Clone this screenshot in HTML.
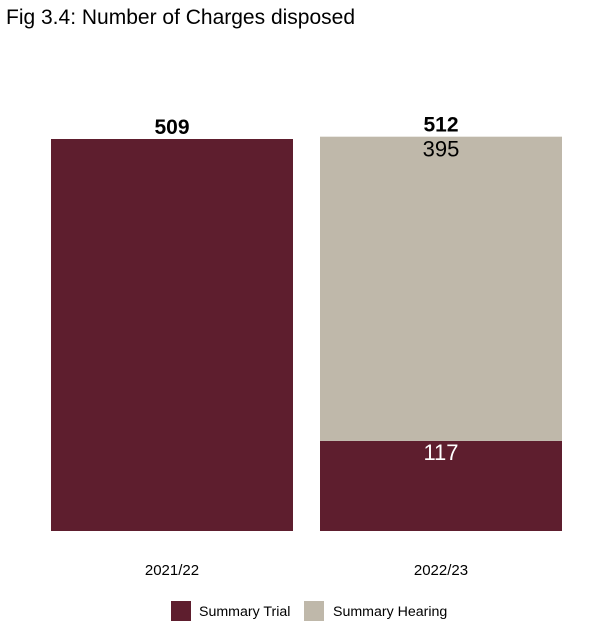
<!DOCTYPE html>
<html><head><meta charset="utf-8"><style>
body{margin:0;background:#fff;font-family:"Liberation Sans",Arial,sans-serif;}
</style></head><body>
<svg width="610" height="637" xmlns="http://www.w3.org/2000/svg" font-family="Liberation Sans, Arial, sans-serif">
<text x="6" y="24" font-size="21" fill="#000">Fig 3.4: Number of Charges disposed</text>
<g id="bars"></g>
<g>
<rect x="171" y="601" width="20" height="20" fill="#5e1e2e"/>
<text x="199" y="616" font-size="14.2">Summary Trial</text>
<rect x="304" y="601" width="20" height="20" fill="#bfb8aa"/>
<text x="333" y="616" font-size="14.2">Summary Hearing</text>
</g>
</svg>
<script>
const categories=["2021/22","2022/23"];
const trial=[509,117];
const hearing=[0,395];
const colors={trial:"#5e1e2e",hearing:"#bfb8aa"};
const base=531, pxPer=392/509, barW=242, x0=[51,320];
const y=v=>base-v*pxPer;
const g=document.getElementById('bars');
const NS="http://www.w3.org/2000/svg";
function mk(t,a){const e=document.createElementNS(NS,t);for(const k in a)e.setAttribute(k,a[k]);g.appendChild(e);return e;}
categories.forEach((c,i)=>{
  const cx=x0[i]+barW/2;
  let r=mk('rect',{x:x0[i],y:y(trial[i]),width:barW,height:trial[i]*pxPer,fill:colors.trial});
  
  
  if(hearing[i]>0){
    let r2=mk('rect',{x:x0[i],y:y(trial[i]+hearing[i]),width:barW,height:hearing[i]*pxPer,fill:colors.hearing});
    
    
    let t1=mk('text',{x:cx,y:y(trial[i]+hearing[i])+20,'font-size':22,'text-anchor':'middle',fill:'#000'});
    t1.textContent=hearing[i];
    
    
    let t2=mk('text',{x:cx,y:y(trial[i])+19,'font-size':22,'text-anchor':'middle',fill:'#fff'});
    t2.textContent=trial[i];
    
    
  }
  const tot=trial[i]+hearing[i];
  let tt=mk('text',{x:cx,y:y(tot)-5,'font-size':21,'font-weight':'bold','text-anchor':'middle',fill:'#000'});
  tt.textContent=tot;
  
  
  let cl=mk('text',{x:cx,y:575,'font-size':15,'text-anchor':'middle',fill:'#000'});
  cl.textContent=c;
  
  
});
</script>
</body></html>
